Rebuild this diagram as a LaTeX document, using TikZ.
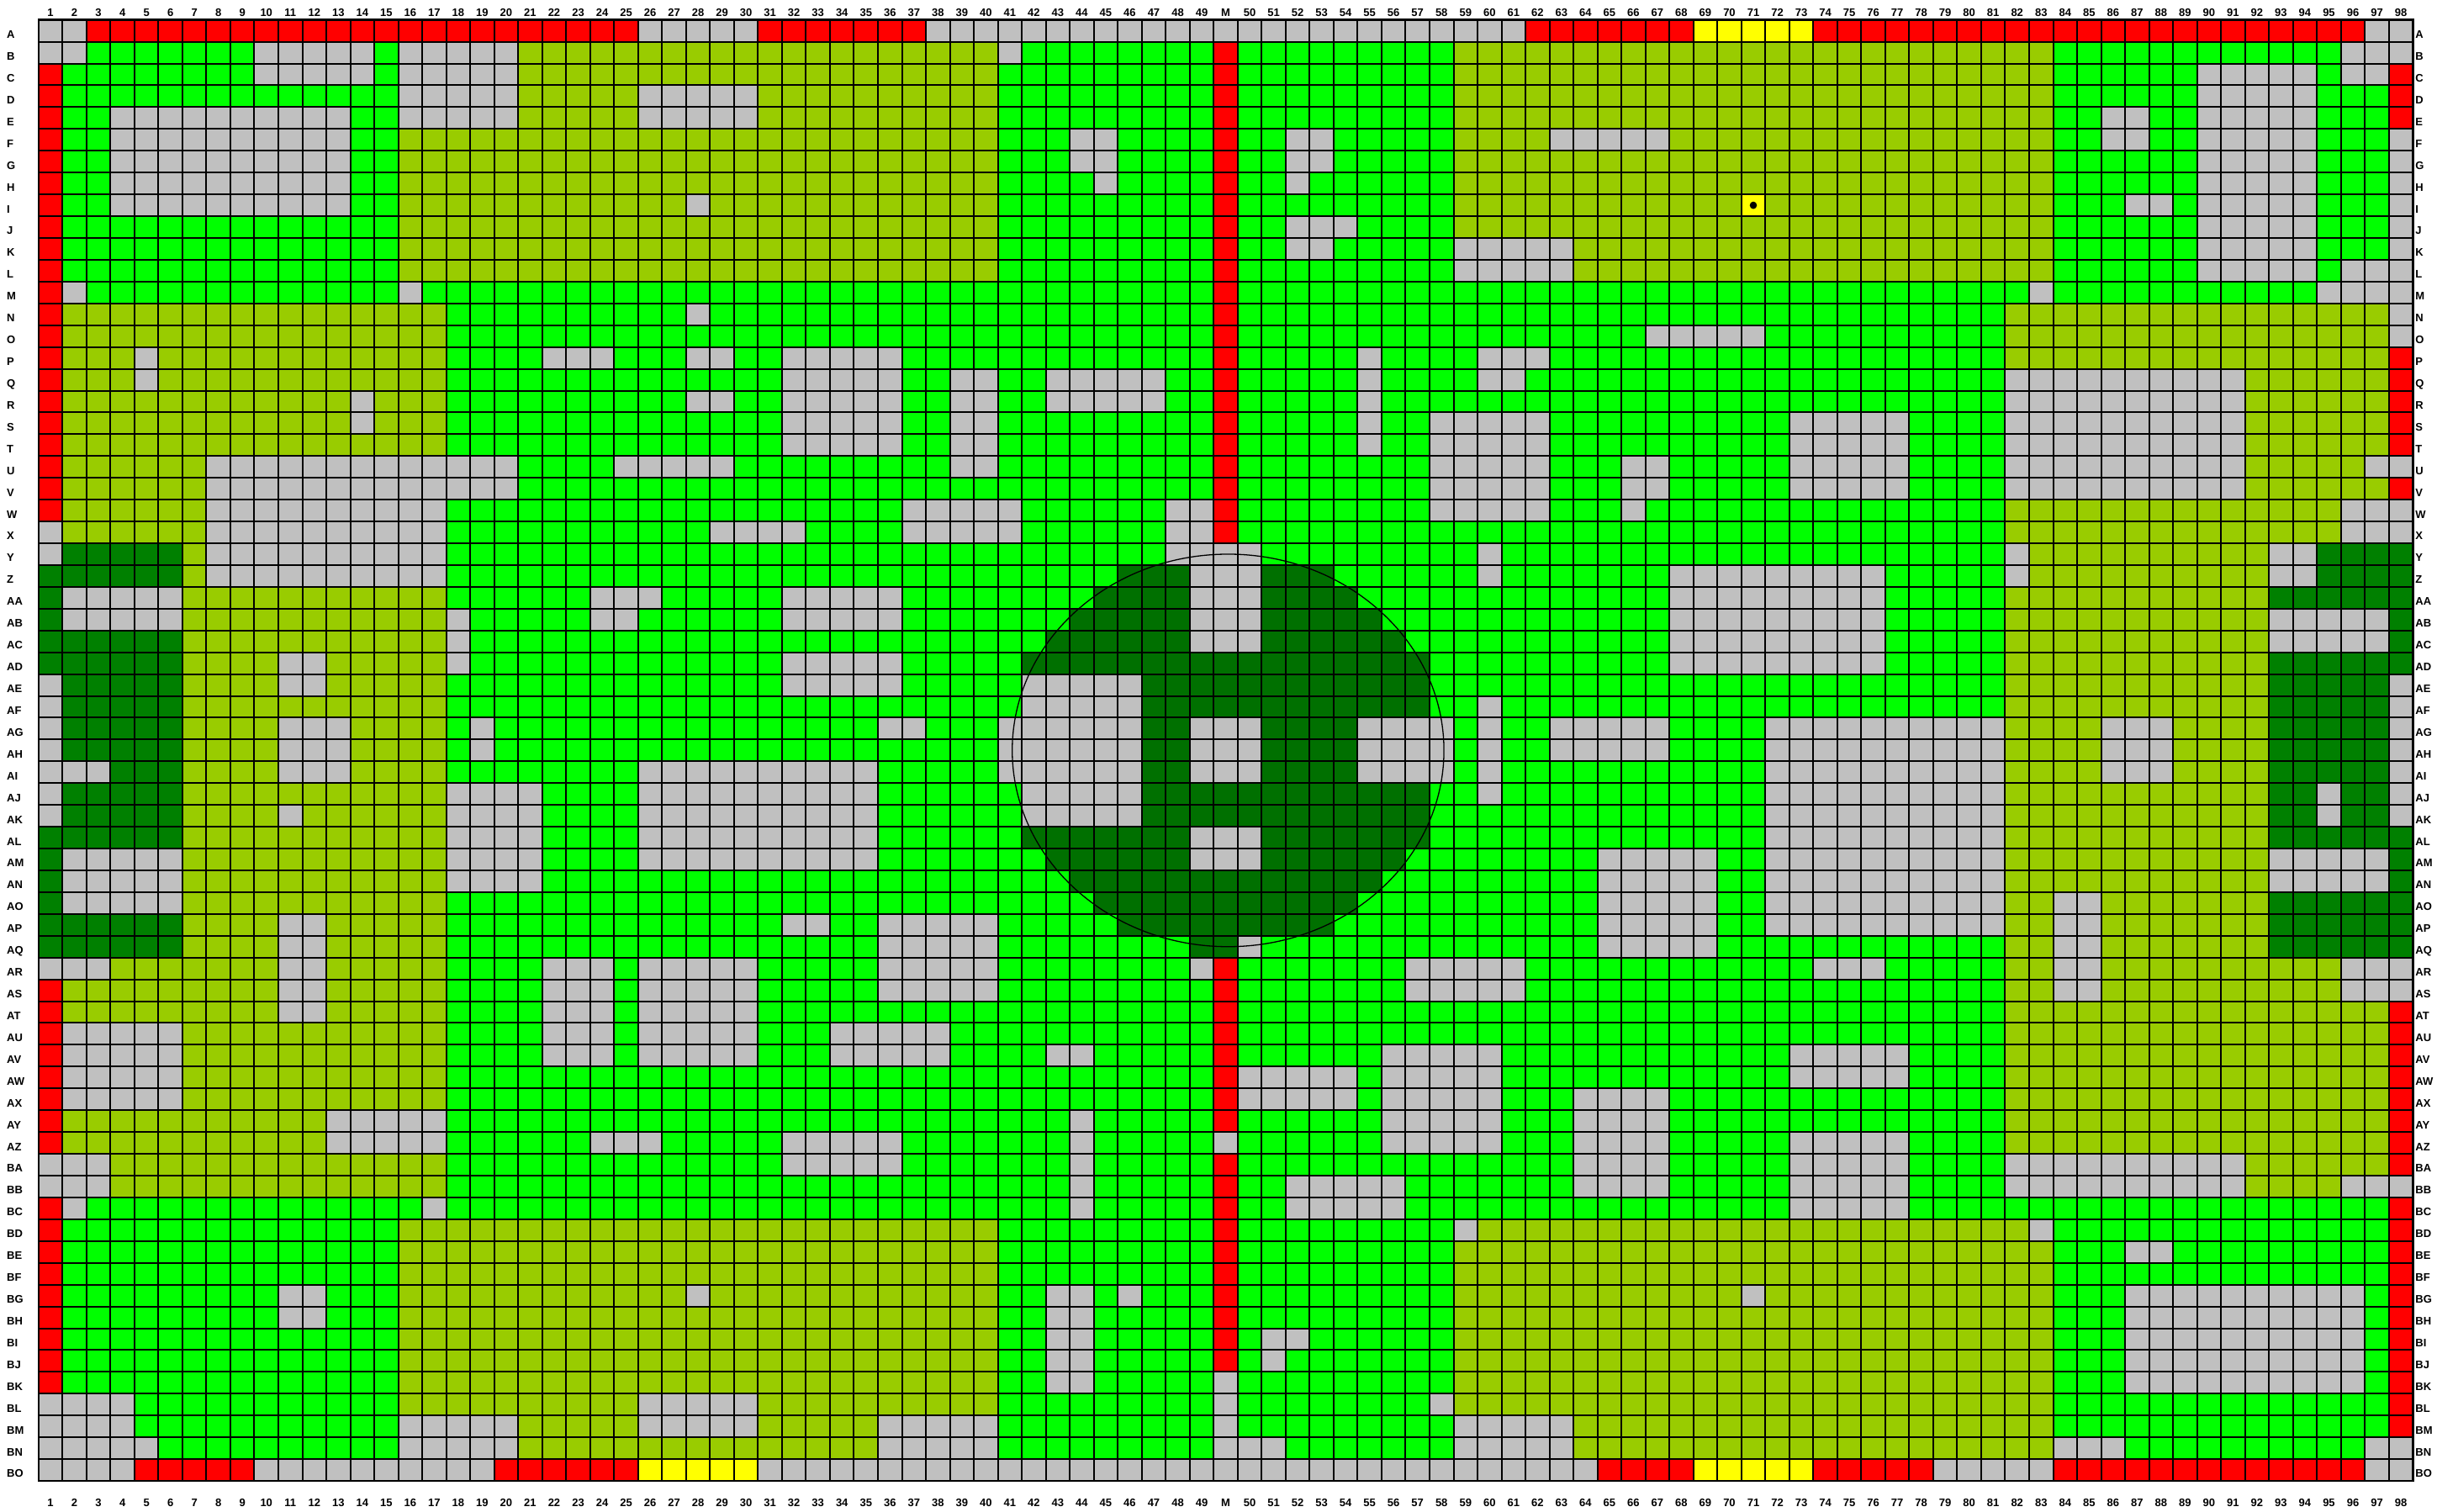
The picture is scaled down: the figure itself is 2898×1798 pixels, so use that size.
\documentclass[tikz,border=0pt]{standalone}
\usepackage{fontspec}
\setmainfont{Liberation Sans}
\definecolor{gy}{RGB}{192, 192, 192}
\definecolor{rd}{RGB}{255, 0, 0}
\definecolor{ol}{RGB}{153, 204, 0}
\definecolor{lm}{RGB}{0, 255, 0}
\definecolor{dk}{RGB}{0, 128, 0}
\definecolor{dc}{RGB}{0, 112, 0}
\definecolor{yl}{RGB}{255, 255, 0}

\begin{document}
\begin{tikzpicture}[
    x=28.52pt, y=-25.93pt,
    gridline/.style={line width=2pt, color=black, line cap=rect},
    frameline/.style={line width=2.6pt, color=black},
    collabel/.style={font=\fontsize{13}{13}\selectfont\bfseries, inner sep=0pt,
                text height=9.3pt, text depth=0pt},
    rowlabel/.style={collabel, anchor=west}
  ]
    \useasboundingbox (-45.8pt,23.7pt) rectangle (2852.2pt,-1774.3pt);
    \fill[white] (-45.8pt,23.7pt) rectangle (2852.2pt,-1774.3pt);

    % Cells, one line per row: colour/last column of the run
    \foreach \runs [count=\rw] in {
      {gy/2,rd/25,gy/30,rd/37,gy/62,rd/69,yl/74,rd/97,gy/99},
      {gy/2,lm/9,gy/14,lm/15,gy/20,ol/40,gy/41,lm/49,rd/50,lm/59,ol/84,lm/96,gy/99},
      {rd/1,lm/9,gy/14,lm/15,gy/20,ol/40,lm/49,rd/50,lm/59,ol/84,lm/90,gy/95,lm/96,gy/98,rd/99},
      {rd/1,lm/15,gy/20,ol/25,gy/30,ol/40,lm/49,rd/50,lm/59,ol/84,lm/90,gy/95,lm/98,rd/99},
      {rd/1,lm/3,gy/13,lm/15,gy/20,ol/25,gy/30,ol/40,lm/49,rd/50,lm/59,ol/84,lm/86,gy/88,lm/90,gy/95,lm/98,rd/99},
      {rd/1,lm/3,gy/13,lm/15,ol/40,lm/43,gy/45,lm/49,rd/50,lm/52,gy/54,lm/59,ol/63,gy/68,ol/84,lm/86,gy/88,lm/90,gy/95,lm/98,gy/99},
      {rd/1,lm/3,gy/13,lm/15,ol/40,lm/43,gy/45,lm/49,rd/50,lm/52,gy/54,lm/59,ol/84,lm/90,gy/95,lm/98,gy/99},
      {rd/1,lm/3,gy/13,lm/15,ol/40,lm/44,gy/45,lm/49,rd/50,lm/52,gy/53,lm/59,ol/84,lm/90,gy/95,lm/98,gy/99},
      {rd/1,lm/3,gy/13,lm/15,ol/27,gy/28,ol/40,lm/49,rd/50,lm/59,ol/71,yl/72,ol/84,lm/87,gy/89,lm/90,gy/95,lm/98,gy/99},
      {rd/1,lm/15,ol/40,lm/49,rd/50,lm/52,gy/55,lm/59,ol/84,lm/90,gy/95,lm/98,gy/99},
      {rd/1,lm/15,ol/40,lm/49,rd/50,lm/52,gy/54,lm/59,gy/64,ol/84,lm/90,gy/95,lm/98,gy/99},
      {rd/1,lm/15,ol/40,lm/49,rd/50,lm/59,gy/64,ol/84,lm/90,gy/95,lm/96,gy/99},
      {rd/1,gy/2,lm/15,gy/16,lm/49,rd/50,lm/83,gy/84,lm/95,gy/99},
      {rd/1,ol/17,lm/27,gy/28,lm/49,rd/50,lm/82,ol/98,gy/99},
      {rd/1,ol/17,lm/49,rd/50,lm/67,gy/72,lm/82,ol/98,gy/99},
      {rd/1,ol/4,gy/5,ol/17,lm/21,gy/24,lm/27,gy/29,lm/31,gy/36,lm/49,rd/50,lm/55,gy/56,lm/60,gy/63,lm/82,ol/98,rd/99},
      {rd/1,ol/4,gy/5,ol/17,lm/31,gy/36,lm/38,gy/40,lm/42,gy/47,lm/49,rd/50,lm/55,gy/56,lm/60,gy/62,lm/82,gy/92,ol/98,rd/99},
      {rd/1,ol/13,gy/14,ol/17,lm/27,gy/29,lm/31,gy/36,lm/38,gy/40,lm/42,gy/47,lm/49,rd/50,lm/55,gy/56,lm/82,gy/92,ol/98,rd/99},
      {rd/1,ol/13,gy/14,ol/17,lm/31,gy/36,lm/38,gy/40,lm/49,rd/50,lm/55,gy/56,lm/58,gy/63,lm/73,gy/78,lm/82,gy/92,ol/98,rd/99},
      {rd/1,ol/17,lm/31,gy/36,lm/38,gy/40,lm/49,rd/50,lm/55,gy/56,lm/58,gy/63,lm/73,gy/78,lm/82,gy/92,ol/98,rd/99},
      {rd/1,ol/7,gy/20,lm/24,gy/29,lm/38,gy/40,lm/49,rd/50,lm/58,gy/63,lm/66,gy/68,lm/73,gy/78,lm/82,gy/92,ol/97,gy/99},
      {rd/1,ol/7,gy/20,lm/49,rd/50,lm/58,gy/63,lm/66,gy/68,lm/73,gy/78,lm/82,gy/92,ol/98,rd/99},
      {rd/1,ol/7,gy/17,lm/36,gy/41,lm/47,gy/49,rd/50,lm/58,gy/63,lm/66,gy/67,lm/82,ol/96,gy/99},
      {gy/1,ol/7,gy/17,lm/28,gy/32,lm/36,gy/41,lm/47,gy/49,rd/50,lm/82,ol/96,gy/99},
      {gy/1,dk/6,ol/7,gy/17,lm/47,gy/51,lm/60,gy/61,lm/82,gy/83,ol/93,gy/95,dk/99},
      {dk/6,ol/7,gy/17,lm/45,dc/48,gy/51,dc/54,lm/60,gy/61,lm/68,gy/77,lm/82,gy/83,ol/93,gy/95,dk/99},
      {dk/1,gy/6,ol/17,lm/23,gy/26,lm/31,gy/36,lm/44,dc/48,gy/51,dc/55,lm/68,gy/77,lm/82,ol/93,dk/99},
      {dk/1,gy/6,ol/17,gy/18,lm/23,gy/25,lm/31,gy/36,lm/43,dc/48,gy/51,dc/56,lm/68,gy/77,lm/82,ol/93,gy/98,dk/99},
      {dk/6,ol/17,gy/18,lm/42,dc/48,gy/51,dc/57,lm/68,gy/77,lm/82,ol/93,gy/98,dk/99},
      {dk/6,ol/10,gy/12,ol/17,gy/18,lm/31,gy/36,lm/41,dc/58,lm/68,gy/77,lm/82,ol/93,dk/99},
      {gy/1,dk/6,ol/10,gy/12,ol/17,lm/31,gy/36,lm/41,gy/46,dc/58,lm/82,ol/93,dk/98,gy/99},
      {gy/1,dk/6,ol/17,lm/41,gy/46,dc/58,lm/60,gy/61,lm/82,ol/93,dk/98,gy/99},
      {gy/1,dk/6,ol/10,gy/13,ol/17,lm/18,gy/19,lm/35,gy/37,lm/40,gy/46,dc/48,gy/51,dc/55,gy/59,lm/60,gy/61,lm/63,gy/68,lm/72,gy/82,ol/86,gy/89,ol/93,dk/98,gy/99},
      {gy/1,dk/6,ol/10,gy/13,ol/17,lm/18,gy/19,lm/40,gy/46,dc/48,gy/51,dc/55,gy/59,lm/60,gy/61,lm/63,gy/68,lm/72,gy/82,ol/86,gy/89,ol/93,dk/98,gy/99},
      {gy/3,dk/6,ol/10,gy/13,ol/17,lm/25,gy/35,lm/40,gy/46,dc/48,gy/51,dc/55,gy/59,lm/60,gy/61,lm/72,gy/82,ol/86,gy/89,ol/93,dk/98,gy/99},
      {gy/1,dk/6,ol/17,gy/21,lm/25,gy/35,lm/41,gy/46,dc/58,lm/60,gy/61,lm/72,gy/82,ol/93,dk/95,gy/96,dk/98,gy/99},
      {gy/1,dk/6,ol/10,gy/11,ol/17,gy/21,lm/25,gy/35,lm/41,gy/46,dc/58,lm/72,gy/82,ol/93,dk/95,gy/96,dk/98,gy/99},
      {dk/6,ol/17,gy/21,lm/25,gy/35,lm/41,dc/48,gy/51,dc/58,lm/72,gy/82,ol/93,dk/99},
      {dk/1,gy/6,ol/17,gy/21,lm/25,gy/35,lm/42,dc/48,gy/51,dc/57,lm/65,gy/70,lm/72,gy/82,ol/93,gy/98,dk/99},
      {dk/1,gy/6,ol/17,gy/21,lm/43,dc/56,lm/65,gy/70,lm/72,gy/82,ol/93,gy/98,dk/99},
      {dk/1,gy/6,ol/17,lm/44,dc/55,lm/65,gy/70,lm/72,gy/82,ol/84,gy/86,ol/93,dk/99},
      {dk/6,ol/10,gy/12,ol/17,lm/31,gy/33,lm/35,gy/40,lm/45,dc/54,lm/65,gy/70,lm/72,gy/82,ol/84,gy/86,ol/93,dk/99},
      {dk/6,ol/10,gy/12,ol/17,lm/35,gy/40,lm/48,dc/50,gy/51,lm/65,gy/70,lm/82,ol/84,gy/86,ol/93,dk/99},
      {gy/3,ol/10,gy/12,ol/17,lm/21,gy/24,lm/25,gy/30,lm/35,gy/40,lm/48,gy/49,rd/50,lm/57,gy/62,lm/74,gy/77,lm/82,ol/84,gy/86,ol/96,gy/99},
      {rd/1,ol/10,gy/12,ol/17,lm/21,gy/24,lm/25,gy/30,lm/35,gy/40,lm/49,rd/50,lm/57,gy/62,lm/82,ol/84,gy/86,ol/96,gy/99},
      {rd/1,ol/10,gy/12,ol/17,lm/21,gy/24,lm/25,gy/30,lm/49,rd/50,lm/82,ol/98,rd/99},
      {rd/1,gy/6,ol/17,lm/21,gy/24,lm/25,gy/30,lm/33,gy/38,lm/49,rd/50,lm/82,ol/98,rd/99},
      {rd/1,gy/6,ol/17,lm/21,gy/24,lm/25,gy/30,lm/33,gy/38,lm/42,gy/44,lm/49,rd/50,lm/56,gy/61,lm/73,gy/78,lm/82,ol/98,rd/99},
      {rd/1,gy/6,ol/17,lm/49,rd/50,gy/55,lm/56,gy/61,lm/73,gy/78,lm/82,ol/98,rd/99},
      {rd/1,gy/6,ol/17,lm/49,rd/50,gy/55,lm/56,gy/61,lm/64,gy/68,lm/82,ol/98,rd/99},
      {rd/1,ol/12,gy/17,lm/43,gy/44,lm/49,rd/50,lm/56,gy/61,lm/64,gy/68,lm/82,ol/98,rd/99},
      {rd/1,ol/12,gy/17,lm/23,gy/26,lm/31,gy/36,lm/43,gy/44,lm/49,gy/50,lm/56,gy/61,lm/64,gy/68,lm/73,gy/78,lm/82,ol/98,rd/99},
      {gy/3,ol/17,lm/31,gy/36,lm/43,gy/44,lm/49,rd/50,lm/64,gy/68,lm/73,gy/78,lm/82,gy/92,ol/98,rd/99},
      {gy/3,ol/17,lm/43,gy/44,lm/49,rd/50,lm/52,gy/57,lm/64,gy/68,lm/73,gy/78,lm/82,gy/92,ol/96,gy/99},
      {rd/1,gy/2,lm/16,gy/17,lm/43,gy/44,lm/49,rd/50,lm/52,gy/57,lm/73,gy/78,lm/98,rd/99},
      {rd/1,lm/15,ol/40,lm/49,rd/50,lm/59,gy/60,ol/83,gy/84,lm/98,rd/99},
      {rd/1,lm/15,ol/40,lm/49,rd/50,lm/59,ol/84,lm/87,gy/89,lm/98,rd/99},
      {rd/1,lm/15,ol/40,lm/49,rd/50,lm/59,ol/84,lm/98,rd/99},
      {rd/1,lm/10,gy/12,lm/15,ol/27,gy/28,ol/40,lm/42,gy/44,lm/45,gy/46,lm/49,rd/50,lm/59,ol/71,gy/72,ol/84,lm/87,gy/97,lm/98,rd/99},
      {rd/1,lm/10,gy/12,lm/15,ol/40,lm/42,gy/44,lm/49,rd/50,lm/59,ol/84,lm/87,gy/97,lm/98,rd/99},
      {rd/1,lm/15,ol/40,lm/42,gy/44,lm/49,rd/50,lm/51,gy/53,lm/59,ol/84,lm/87,gy/97,lm/98,rd/99},
      {rd/1,lm/15,ol/40,lm/42,gy/44,lm/49,rd/50,lm/51,gy/52,lm/59,ol/84,lm/87,gy/97,lm/98,rd/99},
      {rd/1,lm/15,ol/40,lm/42,gy/44,lm/49,gy/50,lm/59,ol/84,lm/87,gy/97,lm/98,rd/99},
      {gy/4,lm/15,ol/25,gy/30,ol/40,lm/49,gy/50,lm/58,gy/59,ol/84,lm/98,rd/99},
      {gy/4,lm/15,gy/20,ol/25,gy/30,ol/35,gy/40,lm/49,gy/50,lm/59,gy/64,ol/84,lm/98,rd/99},
      {gy/5,lm/15,gy/20,ol/35,gy/40,lm/49,gy/52,lm/59,gy/64,ol/84,gy/87,lm/97,gy/99},
      {gy/4,rd/9,gy/19,rd/25,yl/30,gy/65,rd/69,yl/74,rd/79,gy/84,rd/97,gy/99}} {
      \foreach \cl/\cend [remember=\cend as \cbeg (initially 0)] in \runs
        \fill[\cl] (\cbeg,\rw-1) rectangle (\cend,\rw);
    }

    % Grid
    \foreach \cc in {0,...,99} \draw[gridline] (\cc,0) -- (\cc,67);
    \foreach \rr in {0,...,67} \draw[gridline] (0,\rr) -- (99,\rr);
    \draw[frameline] (0,0) rectangle (99,67);

    % Ring and marker
    \draw[black, line width=1.3pt] (49.6,33.5) ellipse [x radius=9, y radius=9];
    \fill[black] (71.5,8.5) ellipse [x radius=0.15, y radius=0.17];

    % Column numbers
    \foreach \cc in {1,...,49} {
      \node[collabel] (top\cc) at (\cc-0.5,-0.335) {\cc};
      \node[collabel] (bot\cc) at (\cc-0.5,68) {\cc};
    }
    \node[collabel] (topM) at (49.5,-0.335) {M};
    \node[collabel] (botM) at (49.5,68) {M};
    \foreach \cc in {50,...,98} {
      \node[collabel] (top\cc) at (\cc+0.5,-0.335) {\cc};
      \node[collabel] (bot\cc) at (\cc+0.5,68) {\cc};
    }

    % Row letters
    \foreach \lab [count=\rw] in {A,B,C,D,E,F,G,H,I,J,K,L,M,N,O,P,Q,R,S,T,U,V,W,X,Y,Z,
      AA,AB,AC,AD,AE,AF,AG,AH,AI,AJ,AK,AL,AM,AN,AO,AP,AQ,AR,AS,AT,AU,AV,AW,AX,AY,AZ,
      BA,BB,BC,BD,BE,BF,BG,BH,BI,BJ,BK,BL,BM,BN,BO} {
      \node[rowlabel] (left\lab) at (-1.325,\rw-0.335) {\lab};
      \node[rowlabel] (right\lab) at (99.1,\rw-0.335) {\lab};
    }
\end{tikzpicture}
\end{document}
